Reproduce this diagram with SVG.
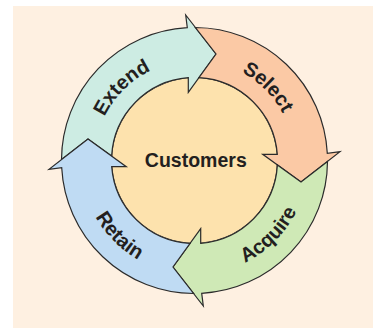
<svg xmlns="http://www.w3.org/2000/svg" width="374" height="329" viewBox="0 0 374 329">
<style>
.band{stroke:#2b2b2b;stroke-width:1.2;stroke-linejoin:miter}
.lbl{font-family:"Liberation Sans",Arial,sans-serif;font-weight:bold;font-size:20px;fill:#231f20}
.mid{font-size:19.5px}
</style>
<defs>
<path id="pExtend" d="M 94.5 160.5 A 100 100 0 0 1 194.5 60.5"/>
<path id="pSelect" d="M 194.5 60.5 A 100 100 0 0 1 294.5 160.5"/>
<path id="pAcquire" d="M 194.5 274.5 A 114 114 0 0 0 308.5 160.5"/>
<path id="pRetain" d="M 80.5 160.5 A 114 114 0 0 0 194.5 274.5"/>
</defs>
<rect x="0" y="0" width="374" height="329" fill="#ffffff"/>
<rect x="13" y="6" width="360" height="322" fill="#fef0e1"/>
<g id="customers">
<circle cx="194.5" cy="160.5" r="83" fill="#fde2ad" class="band"/>
<text class="lbl mid" x="195.8" y="167" text-anchor="middle">Customers</text>
</g>
<g id="extend">
<path class="band" fill="#cdece3" d="M 61.5 159.59 A 133 133 0 0 1 187.3 27.7 L 185.7 15 L 216 54 L 188.3 92.3 L 188.3 77.7 A 83 83 0 0 0 111.62 156.08 L 88 139 Z"/>
<text class="lbl"><textPath href="#pExtend" startOffset="50%" text-anchor="middle">Extend</textPath></text>
</g>
<g id="select">
<path class="band" fill="#fbc9a5" d="M 195.41 27.5 A 133 133 0 0 1 327.3 153.3 L 340 151.7 L 301 182 L 262.7 154.3 L 277.3 154.3 A 83 83 0 0 0 198.92 77.62 L 216 54 Z"/>
<text class="lbl"><textPath href="#pSelect" startOffset="50%" text-anchor="middle">Select</textPath></text>
</g>
<g id="acquire">
<path class="band" fill="#cfe9b6" d="M 327.5 161.41 A 133 133 0 0 1 201.7 293.3 L 203.3 306 L 173 267 L 200.7 228.7 L 200.7 243.3 A 83 83 0 0 0 277.38 164.92 L 301 182 Z"/>
<text class="lbl"><textPath href="#pAcquire" startOffset="50%" text-anchor="middle">Acquire</textPath></text>
</g>
<g id="retain">
<path class="band" fill="#bfdbf3" d="M 193.59 293.5 A 133 133 0 0 1 61.7 167.7 L 49 169.3 L 88 139 L 126.3 166.7 L 111.7 166.7 A 83 83 0 0 0 190.08 243.38 L 173 267 Z"/>
<text class="lbl"><textPath href="#pRetain" startOffset="50%" text-anchor="middle">Retain</textPath></text>
</g>
</svg>
